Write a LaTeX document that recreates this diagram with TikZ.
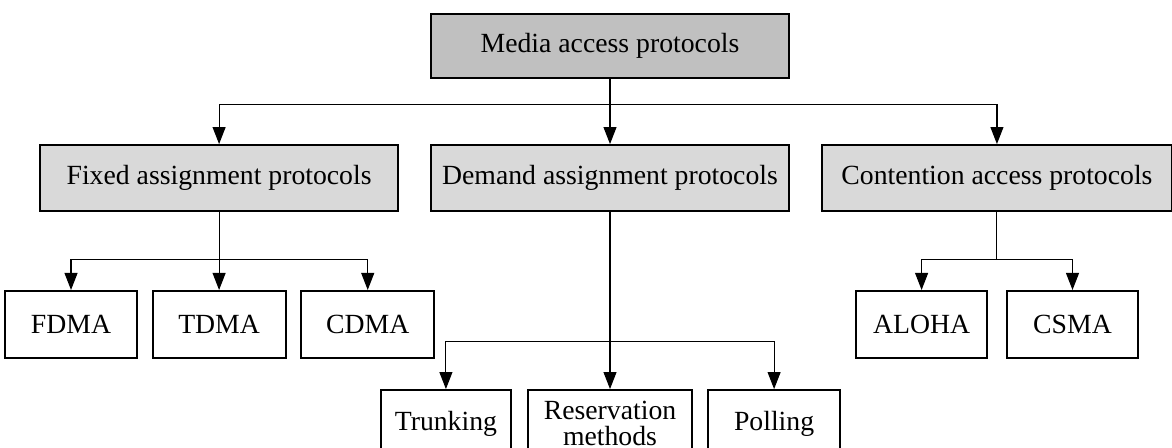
\documentclass[tikz,border=0pt]{standalone}
\usepackage{fontspec}
\setmainfont{Liberation Serif}
\usetikzlibrary{positioning,arrows.meta}
\definecolor{rootgray}{HTML}{C0C0C0}
\definecolor{classgray}{HTML}{D9D9D9}

\begin{document}
\begin{tikzpicture}[
    >={Triangle[length=7.5pt,width=5.7pt]},
    every node/.style={font=\fontsize{12.2}{12.2}\selectfont},
    box/.style={
        draw=black, fill=#1, line width=0.9pt,
        minimum height=29.5pt, inner sep=1pt, align=center
    },
    box/.default=white,
    classbox/.style={box=classgray, minimum width=157.5pt, minimum height=29pt},
    arr/.style={->, line width=0.5pt},
]

\path[use as bounding box, clip] (0,0) rectangle (515.68pt,-196.68pt);

% === Root ===
\node[box=rootgray, minimum width=157.5pt, minimum height=28.2pt] (mac)
    at (268.4pt,-20.24pt) {Media access protocols};

% === Protocol classes ===
\node[classbox, below=28.6pt of mac] (demand) {Demand assignment protocols};
\node[classbox, left=13.6pt of demand] (fixed) {Fixed assignment protocols};
\node[classbox, minimum width=154pt, right=13.6pt of demand] (contention) {Contention access protocols};

% === Fixed assignment ===
\node[box, minimum width=58.5pt, below=34.3pt of fixed] (tdma) {TDMA};
\node[box, minimum width=58pt, left=6pt of tdma] (fdma) {FDMA};
\node[box, minimum width=58.5pt, right=6pt of tdma] (cdma) {CDMA};

% === Demand assignment ===
\node[box, minimum width=72.2pt, below=77.9pt of demand] (reserv) {Reservation\\[-0.6pt]methods};
\node[box, minimum width=57.2pt, left=6.6pt of reserv] (trunk) {Trunking};
\node[box, minimum width=58pt, right=6.2pt of reserv] (poll) {Polling};

% === Contention access ===
\node[box, minimum width=57.6pt, below left=34.3pt and 3.9pt of contention.south] (aloha) {ALOHA};
\node[box, minimum width=57.6pt, right=7.9pt of aloha] (csma) {CSMA};

% === Arrows ===
% Root -> classes
\draw[arr] (mac.south) -- (demand.north);
\draw[arr] (mac.south) -- ++(0,-11pt) -| (fixed.north);
\draw[arr] (mac.south) -- ++(0,-11pt) -| (contention.north);

% Fixed -> schemes
\draw[arr] (fixed.south) -- (tdma.north);
\draw[arr] (fixed.south) -- ++(0,-20.7pt) -| (fdma.north);
\draw[arr] (fixed.south) -- ++(0,-20.7pt) -| (cdma.north);

% Demand -> schemes
\draw[arr] (demand.south) -- (reserv.north);
\draw[arr] (demand.south) -- ++(0,-56.8pt) -| (trunk.north);
\draw[arr] (demand.south) -- ++(0,-56.8pt) -| (poll.north);

% Contention -> schemes
\draw (contention.south) -- ++(0,-20.7pt) coordinate (csplit);
\draw[arr] (csplit) -| (aloha.north);
\draw[arr] (csplit) -| (csma.north);

\end{tikzpicture}
\end{document}
